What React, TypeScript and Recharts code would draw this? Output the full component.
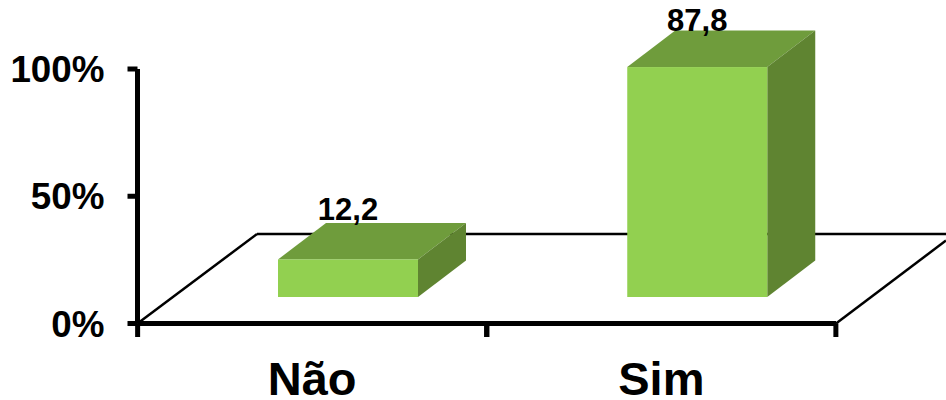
import { BarChart, Bar, XAxis, YAxis, LabelList, ReferenceArea } from "recharts";

const categories = ["Não", "Sim"];
const values = [12.2, 87.8];
const yTicks = [0, 50, 100];

const data = categories.map((name, i) => ({ name, value: values[i] }));

const FONT = "'Liberation Sans', Arial, sans-serif";
const BAND = 349;
const AXIS_Y = 323.5;
// fake 3d: front face is pushed into the floor, box goes back up-right
const SHIFT_X = 35.5;
const TOP_SHIFT = 33;
const BASE_SHIFT = 26.5;
const DEPTH_X = 48;
const DEPTH_Y = 36.5;

function Box3D({ x, y, width, height }: any) {
  const l = x + SHIFT_X;
  const r = l + width;
  const t = y - TOP_SHIFT;
  const b = y + height - BASE_SHIFT;
  return (
    <g>
      <polygon
        points={`${l},${t} ${l + DEPTH_X},${t - DEPTH_Y} ${r + DEPTH_X},${t - DEPTH_Y} ${r},${t}`}
        fill="#6f9c3c"
      />
      <polygon
        points={`${r},${t} ${r + DEPTH_X},${t - DEPTH_Y} ${r + DEPTH_X},${b - DEPTH_Y} ${r},${b}`}
        fill="#5f8431"
      />
      <rect x={l} y={t} width={width} height={b - t} fill="#92d050" />
    </g>
  );
}

function Floor({ x, y, width, height }: any) {
  const bottom = y + height;
  const back = 234;
  return (
    <g fill="none" stroke="#000" strokeWidth={2.5}>
      <line x1={x} y1={bottom} x2={x + 119.5} y2={back} />
      <line x1={x + 119.5} y1={back} x2={946} y2={back} />
      <line x1={x + width} y1={bottom} x2={946} y2={bottom - 83} />
    </g>
  );
}

function CategoryTick({ x, payload }: any) {
  return (
    <g>
      <line x1={x - BAND / 2} y1={AXIS_Y} x2={x - BAND / 2} y2={337} stroke="#000" strokeWidth={5} />
      <line x1={x + BAND / 2} y1={AXIS_Y} x2={x + BAND / 2} y2={337} stroke="#000" strokeWidth={5} />
      <text
        x={x}
        y={395}
        textAnchor="middle"
        fontFamily={FONT}
        fontWeight={700}
        fontSize={47}
        fill="#000"
      >
        {payload.value}
      </text>
    </g>
  );
}

function ValueLabel({ x, y, width, value }: any) {
  return (
    <text
      x={x + width / 2 + SHIFT_X}
      y={value > 50 ? y - 69 : y - 72.5}
      textAnchor="middle"
      fontFamily={FONT}
      fontWeight={700}
      fontSize={31}
      fill="#000"
    >
      {String(value).replace(".", ",")}
    </text>
  );
}

export default function App() {
  return (
    <div style={{ position: "absolute", left: 0, top: 0, background: "#fff" }}>
      <BarChart
        width={946}
        height={400}
        data={data}
        margin={{ top: 69, right: 110, bottom: 0, left: 0 }}
      >
        <ReferenceArea y1={0} y2={100} shape={<Floor />} ifOverflow="visible" />
        <XAxis
          dataKey="name"
          height={76.5}
          interval={0}
          axisLine={{ stroke: "#000", strokeWidth: 5 }}
          tickLine={false}
          tick={<CategoryTick />}
        />
        <YAxis
          width={137.5}
          domain={[0, 100]}
          ticks={yTicks}
          tickFormatter={(v: number) => `${v}%`}
          axisLine={{ stroke: "#000", strokeWidth: 5 }}
          tickLine={{ stroke: "#000", strokeWidth: 5 }}
          tickSize={10}
          tickMargin={23}
          tick={{ fill: "#000", fontSize: 36.8, fontWeight: 700, fontFamily: FONT }}
        />
        <Bar dataKey="value" barSize={140} shape={<Box3D />} isAnimationActive={false}>
          <LabelList dataKey="value" content={<ValueLabel />} />
        </Bar>
      </BarChart>
    </div>
  );
}
